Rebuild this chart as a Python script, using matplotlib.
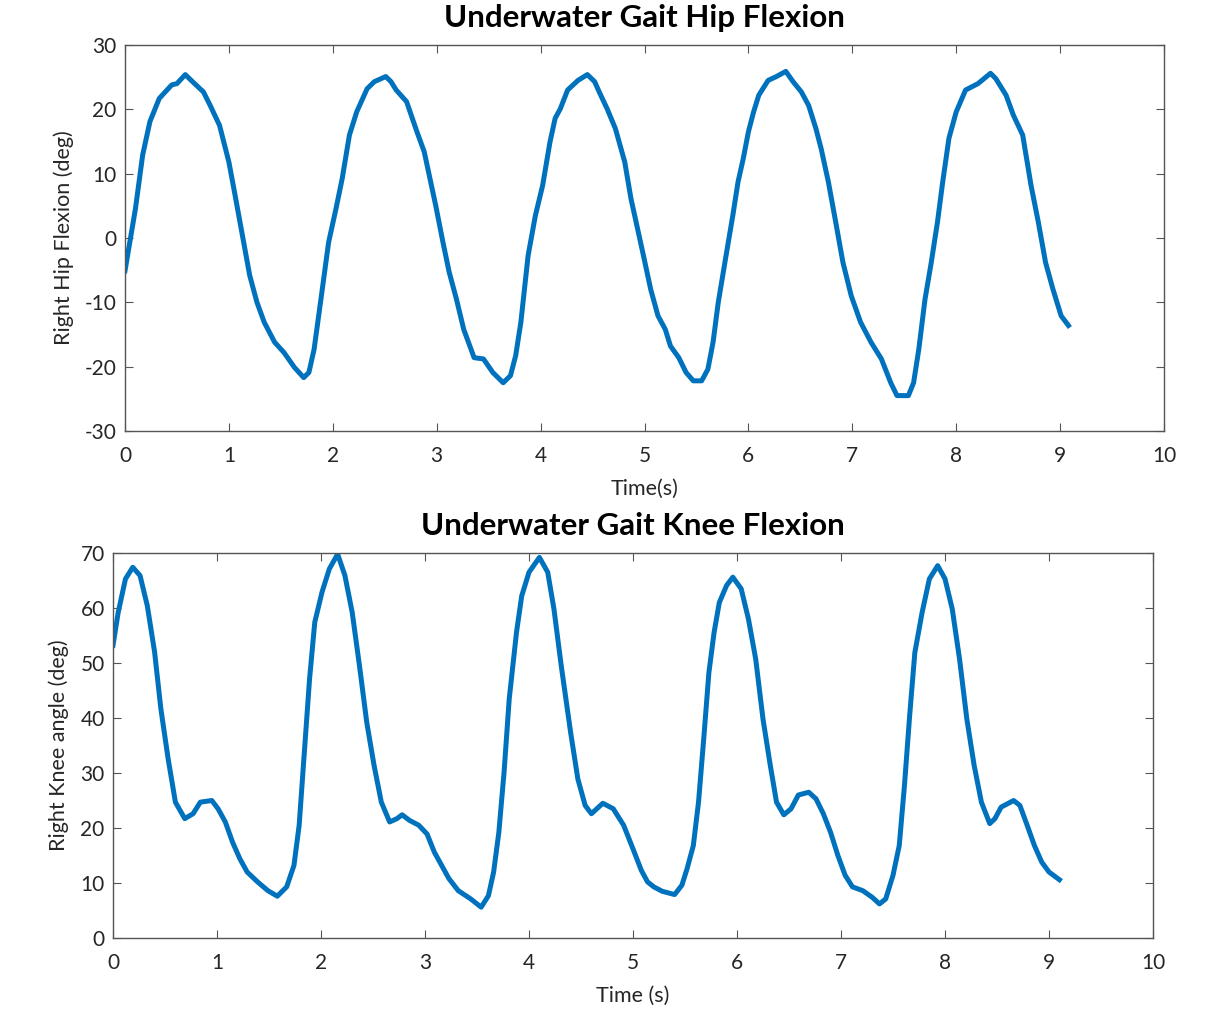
import matplotlib
matplotlib.use("Agg")
import matplotlib.pyplot as plt
import numpy as np

plt.rcParams['font.family'] = ['Lato', 'DejaVu Sans']
plt.rcParams['axes.unicode_minus'] = False

# Hip flexion (time s, angle deg)
hip_t = [0.00, 0.10, 0.17, 0.24, 0.33, 0.45, 0.50, 0.58, 0.65, 0.755, 0.82, 0.91,
         1.00, 1.06, 1.13, 1.20, 1.27, 1.34, 1.44, 1.53, 1.63, 1.72, 1.77, 1.82,
         1.89, 1.96, 2.03, 2.09, 2.16, 2.23, 2.33, 2.40, 2.51, 2.56, 2.61, 2.71,
         2.81, 2.88, 2.99, 3.06, 3.12, 3.19, 3.26, 3.36, 3.45, 3.54, 3.64, 3.71,
         3.76, 3.81, 3.88, 3.95, 4.02, 4.09, 4.14, 4.19, 4.26, 4.36, 4.45, 4.52,
         4.57, 4.64, 4.72, 4.81, 4.87, 4.98, 5.06, 5.13, 5.20, 5.25, 5.33, 5.40,
         5.47, 5.55, 5.61, 5.66, 5.71, 5.78, 5.85, 5.90, 5.95, 6.00, 6.05, 6.10,
         6.19, 6.27, 6.36, 6.43, 6.51, 6.58, 6.65, 6.70, 6.77, 6.84, 6.91, 6.99,
         7.08, 7.18, 7.28, 7.37, 7.43, 7.54, 7.59, 7.64, 7.70, 7.76, 7.82, 7.87,
         7.93, 8.00, 8.09, 8.21, 8.33, 8.38, 8.48, 8.55, 8.64, 8.72, 8.79, 8.86,
         8.93, 9.01, 9.08]
hip_deg = [-5.1, 4.5, 12.9, 18.1, 21.7, 23.8, 24.0, 25.4, 24.3, 22.7, 20.6, 17.5,
           11.8, 6.6, 0.4, -5.8, -10.0, -13.1, -16.2, -17.8, -20.1, -21.7, -20.9, -17.3,
           -9.0, -0.65, 4.5, 9.2, 16.0, 19.6, 23.2, 24.3, 25.1, 24.3, 23.0, 21.2,
           16.5, 13.4, 5.1, -0.65, -5.3, -9.5, -14.2, -18.6, -18.8, -20.9, -22.5, -21.4,
           -18.3, -13.1, -2.7, 3.5, 8.2, 14.9, 18.6, 20.1, 23.0, 24.5, 25.4, 24.3,
           22.5, 20.1, 17.0, 11.8, 6.1, -2.0, -8.0, -12.1, -14.2, -16.8, -18.6, -20.9,
           -22.2, -22.2, -20.4, -16.2, -10.0, -3.2, 3.5, 8.7, 12.3, 16.5, 19.6, 22.2,
           24.5, 25.1, 25.9, 24.3, 22.7, 20.6, 17.0, 13.9, 8.7, 2.5, -3.8, -9.0,
           -13.1, -16.2, -18.8, -22.5, -24.5, -24.5, -22.5, -17.3, -9.5, -3.8, 2.5, 8.7,
           15.5, 19.6, 23.0, 24.0, 25.6, 24.8, 22.2, 19.1, 16.0, 8.2, 2.5, -3.8,
           -7.9, -12.1, -13.6]

# Knee angle (time s, angle deg)
knee_t = [0.00, 0.05, 0.12, 0.19, 0.26, 0.33, 0.40, 0.46, 0.53, 0.60, 0.69, 0.77,
          0.84, 0.95, 1.01, 1.08, 1.15, 1.22, 1.29, 1.39, 1.49, 1.58, 1.67, 1.74,
          1.79, 1.84, 1.89, 1.94, 2.01, 2.08, 2.16, 2.23, 2.30, 2.37, 2.44, 2.51,
          2.58, 2.66, 2.73, 2.78, 2.85, 2.94, 3.02, 3.09, 3.16, 3.23, 3.32, 3.44,
          3.54, 3.61, 3.66, 3.71, 3.76, 3.81, 3.88, 3.93, 4.00, 4.10, 4.18, 4.24,
          4.31, 4.40, 4.47, 4.54, 4.60, 4.71, 4.81, 4.91, 5.00, 5.08, 5.14, 5.20,
          5.28, 5.40, 5.47, 5.52, 5.58, 5.63, 5.68, 5.73, 5.78, 5.83, 5.90, 5.96,
          6.04, 6.11, 6.18, 6.25, 6.32, 6.38, 6.45, 6.52, 6.59, 6.69, 6.76, 6.83,
          6.90, 6.97, 7.04, 7.11, 7.21, 7.30, 7.37, 7.43, 7.50, 7.56, 7.61, 7.66,
          7.71, 7.78, 7.85, 7.93, 8.00, 8.07, 8.14, 8.21, 8.28, 8.35, 8.43, 8.48,
          8.54, 8.60, 8.66, 8.72, 8.79, 8.86, 8.93, 9.00, 9.10]
knee_deg = [53.2, 59.2, 65.3, 67.4, 65.9, 60.4, 52.0, 41.7, 32.6, 24.7, 21.7, 22.6,
            24.7, 25.0, 23.5, 21.1, 17.4, 14.4, 12.0, 10.2, 8.6, 7.6, 9.3, 13.2,
            20.5, 33.8, 47.1, 57.4, 62.9, 67.1, 69.8, 65.9, 59.2, 49.5, 39.2, 31.4,
            24.7, 21.1, 21.7, 22.4, 21.4, 20.5, 18.9, 15.6, 13.2, 10.8, 8.6, 7.1,
            5.6, 7.7, 12.0, 19.2, 30.1, 43.5, 55.6, 62.2, 66.5, 69.2, 66.5, 59.8,
            49.5, 37.4, 28.9, 24.1, 22.6, 24.5, 23.5, 20.5, 16.2, 12.3, 10.2, 9.3,
            8.5, 7.9, 9.6, 12.6, 16.8, 24.7, 36.2, 48.3, 55.6, 61.0, 64.1, 65.6,
            63.5, 58.0, 50.7, 39.8, 31.4, 24.7, 22.4, 23.5, 26.0, 26.5, 25.3, 22.6,
            19.2, 15.0, 11.4, 9.3, 8.6, 7.4, 6.2, 7.1, 11.4, 16.8, 27.7, 40.4,
            51.9, 59.2, 65.3, 67.7, 65.3, 59.8, 50.7, 39.8, 31.4, 24.7, 20.8, 21.7,
            23.8, 24.4, 25.0, 24.1, 20.5, 16.8, 13.8, 12.0, 10.6]

hip_yticks = [-30, -20, -10, 0, 10, 20, 30]
knee_yticks = [0, 10, 20, 30, 40, 50, 60, 70]
xticks = list(range(0, 11))

line_color = '#0072BD'
axis_color = '#262626'

fig = plt.figure(figsize=(12.11, 10.15), dpi=100)
ax1 = fig.add_axes([125/1211, 1-431/1015, (1164-125)/1211, (431-45)/1015])
ax2 = fig.add_axes([113/1211, 1-938/1015, (1153-113)/1211, (938-553)/1015])

def style(ax):
    for s in ax.spines.values():
        s.set_color('#555555')
        s.set_linewidth(1.0)
    ax.tick_params(direction='in', top=True, right=True, length=6, width=0.8,
                   colors='#555555', labelcolor=axis_color, labelsize=15)
    ax.tick_params(axis='x', pad=11)
    ax.tick_params(axis='y', pad=6)

ax1.plot(hip_t, hip_deg, color=line_color, linewidth=3.6, solid_joinstyle='round')
ax1.set_xlim(0, 10)
ax1.set_ylim(-30, 30)
ax1.set_xticks(xticks)
ax1.set_yticks(hip_yticks)
ax1.set_xlabel('Time(s)', fontsize=15.5, color=axis_color, labelpad=9)
ax1.set_ylabel('Right Hip Flexion (deg)', fontsize=15.5, color=axis_color, labelpad=8)
ax1.set_title('Underwater Gait Hip Flexion', fontsize=22.5, fontweight='bold', pad=13)
style(ax1)

ax2.plot(knee_t, knee_deg, color=line_color, linewidth=3.6, solid_joinstyle='round')
ax2.set_xlim(0, 10)
ax2.set_ylim(0, 70)
ax2.set_xticks(xticks)
ax2.set_yticks(knee_yticks)
ax2.set_xlabel('Time (s)', fontsize=15.5, color=axis_color, labelpad=9)
ax2.set_ylabel('Right Knee angle (deg)', fontsize=15.5, color=axis_color, labelpad=8)
ax2.set_title('Underwater Gait Knee Flexion', fontsize=22.5, fontweight='bold', pad=13)
style(ax2)

fig.savefig('out.png', dpi=100)
